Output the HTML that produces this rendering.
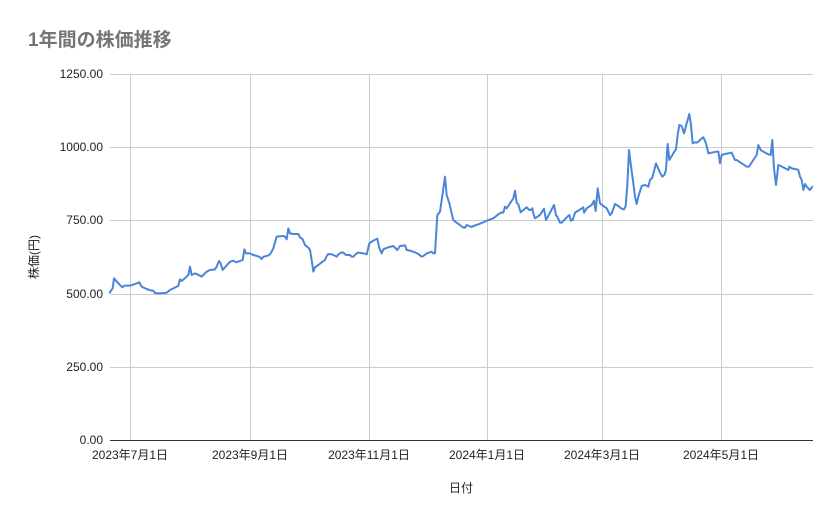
<!DOCTYPE html>
<html><head><meta charset="utf-8"><style>
html,body{margin:0;padding:0;background:#fff;}
svg{display:block;font-family:"Liberation Sans","Noto Sans CJK JP",sans-serif;}
</style></head><body>
<svg width="839" height="519" viewBox="0 0 839 519">
<rect width="839" height="519" fill="#fff"/>
<text x="28" y="46" font-size="19" fill="#757575" font-weight="bold">1年間の株価推移</text>
<g stroke="#cccccc" stroke-width="1">
<line x1="110" y1="74.5" x2="813" y2="74.5"/>
<line x1="110" y1="147.5" x2="813" y2="147.5"/>
<line x1="110" y1="220.5" x2="813" y2="220.5"/>
<line x1="110" y1="294.5" x2="813" y2="294.5"/>
<line x1="110" y1="367.5" x2="813" y2="367.5"/>
<line x1="130.5" y1="74" x2="130.5" y2="440"/>
<line x1="250.5" y1="74" x2="250.5" y2="440"/>
<line x1="369.5" y1="74" x2="369.5" y2="440"/>
<line x1="487.5" y1="74" x2="487.5" y2="440"/>
<line x1="602.5" y1="74" x2="602.5" y2="440"/>
<line x1="721.5" y1="74" x2="721.5" y2="440"/>
</g>
<line x1="110" y1="440.5" x2="813" y2="440.5" stroke="#333" stroke-width="1"/>
<g font-size="12" fill="#222" text-anchor="end">
<text x="103" y="78">1250.00</text>
<text x="103" y="151">1000.00</text>
<text x="103" y="224">750.00</text>
<text x="103" y="298">500.00</text>
<text x="103" y="371">250.00</text>
<text x="103" y="444">0.00</text>
</g>
<g font-size="12" fill="#222" text-anchor="middle">
<text x="130" y="459">2023年7月1日</text>
<text x="250" y="459">2023年9月1日</text>
<text x="369" y="459">2023年11月1日</text>
<text x="487" y="459">2024年1月1日</text>
<text x="602" y="459">2024年3月1日</text>
<text x="721" y="459">2024年5月1日</text>
<text x="461" y="492">日付</text>
</g>
<text transform="translate(38,257) rotate(-90)" font-size="12" fill="#222" text-anchor="middle">株価(円)</text>
<g fill="none" stroke="#4a86d8" stroke-width="2" stroke-linejoin="round">
<polyline vector-effect="non-scaling-stroke" transform="translate(100,160) scale(0.33333)" points="28,400 38,385 42,355 55,370 67,382 73,377 90,377 105,372 118,367 125,380 140,387 155,392 160,392 165,399 175,400 195,399 200,398 210,390 220,385 230,380 235,378 240,358 245,363 260,350 265,345 270,320 275,345 285,340 300,347 305,350 310,345 320,335 330,330 345,328 350,320 357,303 362,310 368,330 375,322 390,305 400,302 408,307 420,303 428,300 433,268 438,280 450,280 460,285 478,290 485,297 490,290 503,287 510,283 520,265 530,230 550,228 555,230 560,238 565,205 570,220 580,222 595,222 600,232 608,238 615,255 625,263 630,270 635,300 640,335 645,322 655,315 665,307 675,300 680,288 685,282 695,283 700,285 710,290 715,283 725,277 730,278 738,285 750,285 755,290 760,290 770,280 775,278 790,280 800,283 808,250 820,242 832,236 838,265 845,280 850,268 865,262 880,258 892,270 900,258 910,257 915,256 920,270 930,272 945,277 955,282 965,290 970,288 980,280 990,277 995,275 1000,280 1005,280 1012,165 1020,155 1028,100 1035,50 1040,105 1048,130 1055,160 1060,180 1070,188 1080,195"/>
<polyline vector-effect="non-scaling-stroke" transform="translate(420,100) scale(0.33333)" points="120,375 130,383 135,383 140,375 155,381 160,378 175,373 190,367 200,362 220,355 235,343 245,337 250,338 255,320 260,325 270,310 280,295 285,272 290,308 295,313 302,337 310,330 320,322 328,330 332,330 337,325 340,340 345,355 360,345 372,326 378,360 390,338 402,315 408,346 412,350 420,368 425,368 440,352 448,345 453,362 458,360 465,338 475,332 490,322 492,338 500,325 515,315 522,302 527,333 533,265 540,310 550,318 560,325 570,345 575,340 585,312 595,318 605,326 612,328 617,318 622,255 627,150 632,190 640,250 645,290 650,312 655,290 665,258 675,255 685,260 690,240 697,233 708,190 720,218 727,230 733,225 738,210 743,132 748,180 760,160 768,148 773,105 778,75 785,78 792,100 800,70 808,42 813,75 818,130 825,127 830,128 835,125 845,115 850,112 858,130 865,160 875,158 888,155 895,155 900,190 905,165 915,162 935,158 945,180 950,180 965,190 980,200 987,200 1000,180 1010,165 1015,135 1022,150 1030,155 1045,163 1052,165 1057,120 1062,205 1068,255 1075,195 1090,202 1105,210 1108,200 1115,205 1130,208 1135,210 1140,230 1145,240 1150,270 1155,252 1160,260 1170,270 1178,258"/>
</g>
</svg>
</body></html>
